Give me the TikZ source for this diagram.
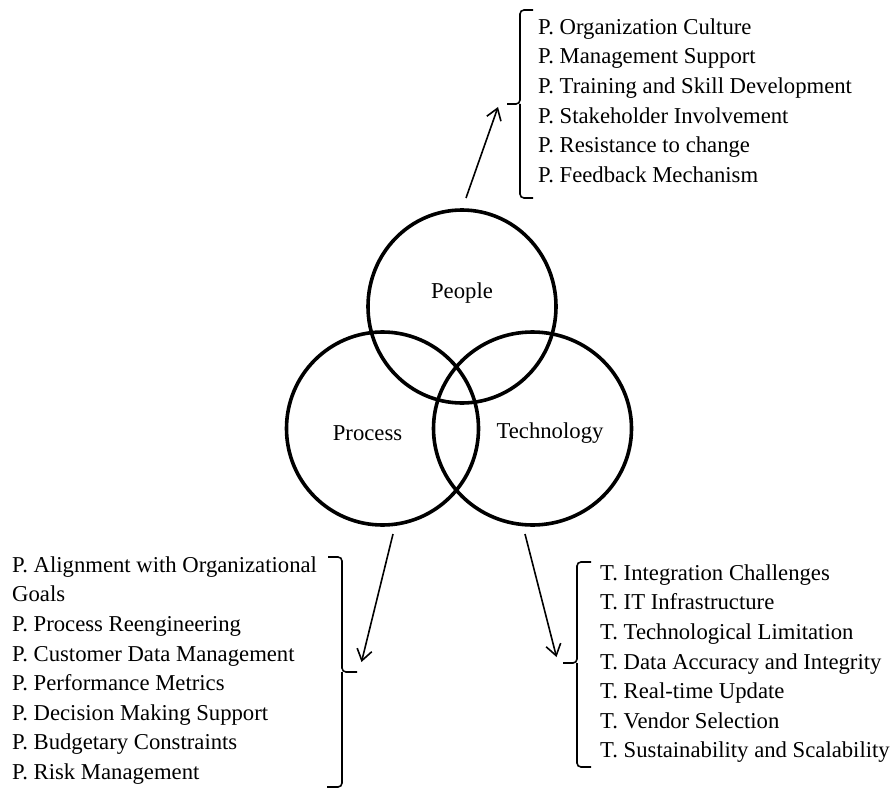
\documentclass[tikz,border=0pt]{standalone}
\usepackage{fontspec}
\setmainfont{Liberation Serif}
\usetikzlibrary{arrows.meta,shapes.geometric}
\begin{document}
\begin{tikzpicture}[x=1pt,y=-1pt,
  every node/.style={font=\fontsize{22.7}{27}\selectfont},
  ring/.style={draw, ellipse, line width=3.6pt, inner sep=0pt},
  item/.style={anchor=mid west, inner sep=0pt},
  arr/.style={line width=1.6pt, -{Straight Barb[length=11pt,width=15pt]}},
  bracepath/.style={line width=1.6pt, rounded corners=4pt}]
\useasboundingbox (0,0) rectangle (894,789);

% three overlapping rings
\node[ring, minimum width=188pt, minimum height=193pt] (people) at (462,306.5) {};
\node[ring, minimum width=192pt, minimum height=193pt] (process) at (382.5,428.5) {};
\node[ring, minimum width=198pt, minimum height=193pt] (tech) at (532.5,428.5) {};

\node (peoplelbl) at (462,293) {People};
\node (processlbl) at (367.5,433) {Process};
\node (techlbl) at (550,433) {Technology};

% people factors
\foreach \t [count=\i] in {P. Organization Culture, P. Management Support,
  P. Training and Skill Development, P. Stakeholder Involvement,
  P. Resistance to change, P. Feedback Mechanism}
  \node[item] (pe\i) at (538,{32+(\i-1)*29.6}) {\t};

% process factors
\foreach \t [count=\i] in {P. Alignment with Organizational, Goals,
  P. Process Reengineering, P. Customer Data Management,
  P. Performance Metrics, P. Decision Making Support,
  P. Budgetary Constraints, P. Risk Management}
  \node[item] (pr\i) at (12,{570+(\i-1)*29.6}) {\t};

% technology factors
\foreach \t [count=\i] in {T. Integration Challenges, T. IT Infrastructure,
  T. Technological Limitation, T. Data Accuracy and Integrity,
  T. Real-time Update, T. Vendor Selection,
  T. Sustainability and Scalability}
  \node[item] (te\i) at (600,{578+(\i-1)*29.6}) {\t};

% braces grouping the lists
\draw[bracepath] (533,10) -- (520,10) -- (520,104) -- (507,104);
\draw[bracepath] (533,198) -- (520,198) -- (520,104);
\draw[bracepath] (328,557) -- (342,557) -- (342,672) -- (357,672);
\draw[bracepath] (327,787) -- (342,787) -- (342,672);
\draw[bracepath] (591,562) -- (577,562) -- (577,663) -- (563,663);
\draw[bracepath] (591,767) -- (577,767) -- (577,663);

% arrow ends
\coordinate (peopleout) at (466,198);
\coordinate (peoplein) at (498,107);
\coordinate (processout) at (393,534);
\coordinate (processin) at (361.5,662);
\coordinate (techout) at (525,534);
\coordinate (techin) at (556.5,657);

\draw[arr] (peopleout) -- (peoplein);
\draw[arr] (processout) -- (processin);
\draw[arr] (techout) -- (techin);
\end{tikzpicture}
\end{document}
